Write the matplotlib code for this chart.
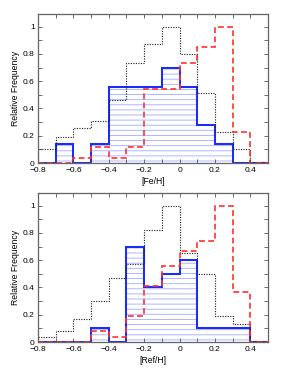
import numpy as np
import matplotlib
matplotlib.use('Agg')
import matplotlib.pyplot as plt
from matplotlib.ticker import MultipleLocator, FuncFormatter

# bin edges shared by both panels
edges = np.round(np.arange(-0.8, 0.51, 0.1), 2)

# top panel: [Fe/H]
fe_dotted = [0.10, 0.19, 0.26, 0.31, 0.46, 0.73, 0.87, 1.00, 0.80, 0.51, 0.23, 0.10, 0.01]
fe_blue = [0.0, 0.14, 0.0, 0.14, 0.56, 0.56, 0.56, 0.70, 0.56, 0.28, 0.14, 0.0, 0.0]
fe_red = [0.0, 0.0, 0.04, 0.12, 0.04, 0.12, 0.54, 0.54, 0.73, 0.85, 1.00, 0.23, 0.0]

# bottom panel: [Ref/H]
ref_dotted = [0.04, 0.08, 0.17, 0.30, 0.47, 0.57, 0.82, 1.00, 0.65, 0.50, 0.19, 0.13, 0.01]
ref_blue = [0.0, 0.0, 0.0, 0.10, 0.0, 0.70, 0.40, 0.50, 0.60, 0.10, 0.10, 0.10, 0.0]
ref_red = [0.0, 0.0, 0.0, 0.08, 0.04, 0.19, 0.41, 0.56, 0.67, 0.74, 1.00, 0.37, 0.0]

plt.rcParams['font.family'] = ['Liberation Sans', 'DejaVu Sans']
plt.rcParams['hatch.linewidth'] = 0.7

DPI = 92
fig = plt.figure(figsize=(291 / DPI, 376 / DPI), dpi=DPI)

W, H = 291.0, 376.0
axTop = fig.add_axes([38 / W, 1 - 163 / H, 230 / W, 149 / H])
axBot = fig.add_axes([38 / W, 1 - 342 / H, 230 / W, 149 / H])


def fmt(v, pos):
    s = '%g' % round(v, 2)
    return s.replace('-', '\u2212')


def drawPanel(ax, dotted, blue, red, xlabel):
    ax.stairs(blue, edges, fill=True, hatch='---', facecolor='none',
              edgecolor='#a8b0ff', linewidth=0)
    ax.stairs(blue, edges, color='#1a2cff', linewidth=1.6)
    ax.stairs(dotted, edges, color='#222222', linewidth=0.9, linestyle=(0, (1, 1.2)))
    ax.stairs(red, edges, color='#ff3030', linewidth=1.3, linestyle=(0, (3.5, 2)))

    ax.set_xlim(-0.8, 0.5)
    ax.set_ylim(0, 1.093)
    ax.xaxis.set_major_locator(MultipleLocator(0.2))
    ax.xaxis.set_minor_locator(MultipleLocator(0.1))
    ax.yaxis.set_major_locator(MultipleLocator(0.2))
    ax.yaxis.set_minor_locator(MultipleLocator(0.1))
    ax.xaxis.set_major_formatter(FuncFormatter(fmt))
    ax.yaxis.set_major_formatter(FuncFormatter(fmt))
    ax.tick_params(which='both', direction='in', top=True, right=True,
                   length=3, width=0.6, labelsize=6.6, color='#444444')
    ax.tick_params(axis='x', pad=3.2)
    ax.tick_params(axis='y', pad=2.5)
    for sp in ax.spines.values():
        sp.set_color('#666666')
        sp.set_linewidth(1.0)
    ax.set_xlabel(xlabel, fontsize=6.8, labelpad=2)
    ax.set_ylabel('Relative Frequency', fontsize=6.8, labelpad=2)


drawPanel(axTop, fe_dotted, fe_blue, fe_red, '[Fe/H]')
drawPanel(axBot, ref_dotted, ref_blue, ref_red, '[Ref/H]')

fig.savefig('out.png', dpi=DPI)
